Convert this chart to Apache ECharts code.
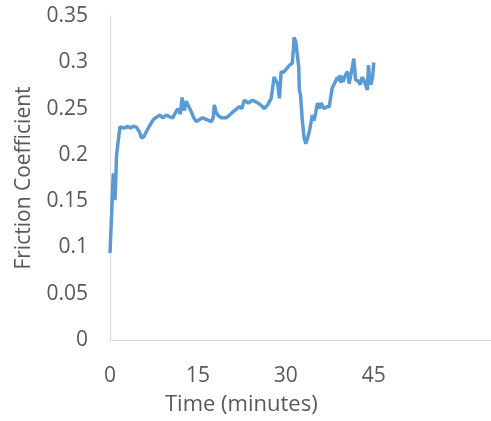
<!DOCTYPE html>
<html>
<head>
<meta charset="utf-8">
<script src="https://cdn.jsdelivr.net/npm/echarts@6/dist/echarts.min.js"></script>
<style>html,body{margin:0;padding:0;background:#fff;}#c{width:491px;height:421px;}</style>
</head>
<body>
<div id="c"></div>
<script>
const timeMin = [0,0.3,0.56,0.7,0.85,1.0,1.1,1.4,1.7,2.0,2.5,3.0,3.5,4.0,4.5,5.0,5.4,5.8,6.2,6.8,7.4,8.0,8.5,9.0,9.6,10.2,10.7,11.2,11.6,12.0,12.3,12.5,12.7,13.0,13.3,13.6,13.9,14.3,14.7,15.2,15.8,16.5,17.3,17.6,17.8,18.1,18.4,19.0,19.8,20.4,20.9,21.5,22.1,22.5,22.9,23.6,24.3,25.0,25.7,26.3,26.9,27.5,28.0,28.3,28.6,28.9,29.2,29.6,30.0,30.5,31.1,31.3,31.4,31.7,32.0,32.2,32.3,32.5,32.8,33.1,33.4,33.7,34.0,34.3,34.5,34.8,35.1,35.4,35.7,36.0,36.5,37.0,37.4,37.9,38.3,38.8,39.0,39.2,39.4,39.6,39.8,40.0,40.3,40.5,40.8,41.2,41.6,41.9,42.3,42.7,43.0,43.3,43.6,43.9,44.1,44.3,44.5,44.8,45.0];
const friction = [0.094,0.14,0.180,0.165,0.151,0.175,0.198,0.215,0.230,0.232,0.229,0.231,0.229,0.231,0.230,0.225,0.218,0.220,0.225,0.232,0.238,0.241,0.243,0.240,0.243,0.241,0.240,0.246,0.250,0.244,0.262,0.252,0.248,0.258,0.256,0.250,0.246,0.240,0.236,0.238,0.240,0.238,0.236,0.240,0.254,0.246,0.243,0.240,0.240,0.243,0.246,0.249,0.252,0.250,0.259,0.256,0.259,0.257,0.254,0.250,0.254,0.261,0.284,0.280,0.277,0.261,0.290,0.289,0.292,0.296,0.299,0.315,0.327,0.322,0.322,0.295,0.270,0.265,0.238,0.219,0.212,0.218,0.225,0.235,0.243,0.237,0.246,0.256,0.250,0.256,0.250,0.252,0.252,0.272,0.277,0.284,0.280,0.286,0.278,0.285,0.279,0.284,0.286,0.290,0.277,0.290,0.304,0.281,0.280,0.276,0.284,0.281,0.276,0.270,0.297,0.280,0.276,0.284,0.300];
const xTicks = [0,15,30,45];
const yTickStep = 0.05;

const chart = echarts.init(document.getElementById('c'), null, {renderer:'canvas'});
const font = "'Open Sans', 'Noto Sans', sans-serif";
chart.setOption({
  animation:false,
  grid:{left:110, right:0, top:16, bottom:81, containLabel:false},
  xAxis:{
    type:'value', min:0, max:65, interval:15,
    axisLine:{show:true, lineStyle:{color:'#d9d9d9', width:1}},
    axisTick:{show:false},
    splitLine:{show:false},
    axisLabel:{
      margin:26, fontSize:21, color:'#595959', fontFamily:font,
      showMaxLabel:false,
      formatter:function(v){ return xTicks.indexOf(v) >= 0 ? String(v) : ''; }
    }
  },
  yAxis:{
    type:'value', min:0, max:0.35, interval:yTickStep,
    axisLine:{show:true, lineStyle:{color:'#d9d9d9', width:1}},
    axisTick:{show:false},
    splitLine:{show:false},
    axisLabel:{
      margin:22, fontSize:21, color:'#595959', fontFamily:font,
      formatter:function(v){ return String(parseFloat(v.toFixed(2))); }
    },
    name:'Friction Coefficient', nameLocation:'middle', nameGap:75,
    nameTextStyle:{fontSize:21, color:'#595959', fontFamily:font}
  },
  graphic:[{
    type:'text', left:165, top:394,
    style:{text:'Time (minutes)', fontSize:22, fill:'#595959', fontFamily:font}
  }],
  series:[{
    type:'line',
    data:timeMin.map((t,i)=>[t,friction[i]]),
    showSymbol:false,
    lineStyle:{color:'#5B9BD5', width:3.5},
    itemStyle:{color:'#5B9BD5'}
  }]
});
</script>
</body>
</html>
